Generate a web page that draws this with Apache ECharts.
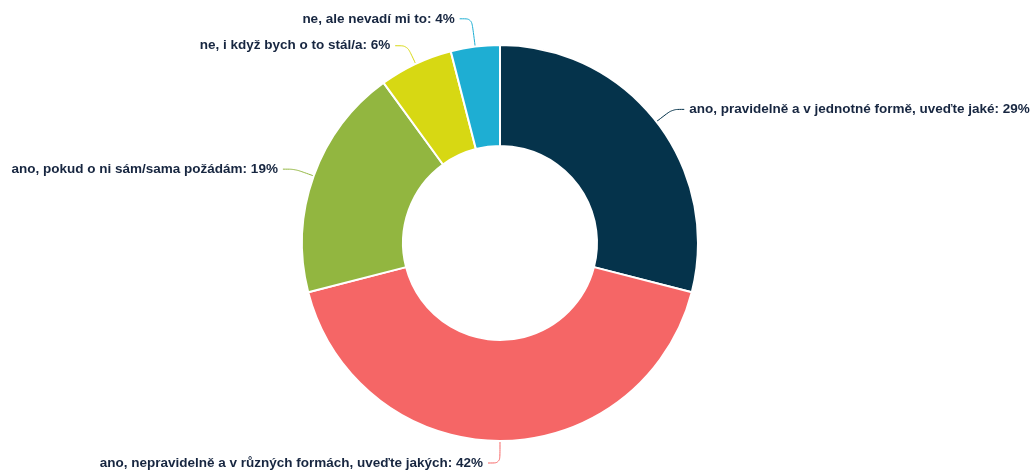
<!DOCTYPE html>
<html>
<head>
<meta charset="utf-8">
<script src="https://cdn.jsdelivr.net/npm/echarts@6/dist/echarts.min.js"></script>
<style>
  html, body { margin: 0; padding: 0; background: #fff; }
  #chart { width: 1035px; height: 470px; }
</style>
</head>
<body>
<div id="chart"></div>
<script>
// odpovědi (po směru hodinových ručiček od 12 hodin)
var categories = [
  'ano, pravidelně a v jednotné formě, uveďte jaké',
  'ano, nepravidelně a v různých formách, uveďte jakých',
  'ano, pokud o ni sám/sama požádám',
  'ne, i když bych o to stál/a',
  'ne, ale nevadí mi to'
];
var values = [29, 42, 19, 6, 4];
var colors = ['#05334b', '#f56666', '#92b640', '#d7d813', '#1eaed3'];
// delší vodicí čára u malých výsečí nahoře
var lineLengths = [20, 22, 20, 20, 28];

var chart = echarts.init(document.getElementById('chart'));

var data = categories.map(function (name, i) {
  return {
    name: name,
    value: values[i],
    labelLine: { length: lineLengths[i] }
  };
});

chart.setOption({
  animation: false,
  color: colors,
  series: [
    {
      name: 'odpovědi',
      type: 'pie',
      center: [500, 243],
      radius: [97, 198],
      startAngle: 90,
      clockwise: true,
      avoidLabelOverlap: false,
      itemStyle: {
        borderColor: '#fff',
        borderWidth: 2
      },
      label: {
        show: true,
        position: 'outside',
        formatter: '{b}: {c}%',
        color: '#172640',
        fontFamily: 'Liberation Sans, Arial, sans-serif',
        fontWeight: 'bold',
        fontSize: 13.5
      },
      labelLine: {
        show: true,
        smooth: 0.3,
        length: 20,
        length2: 12,
        lineStyle: { width: 1 }
      },
      data: data
    }
  ]
});
</script>
</body>
</html>
